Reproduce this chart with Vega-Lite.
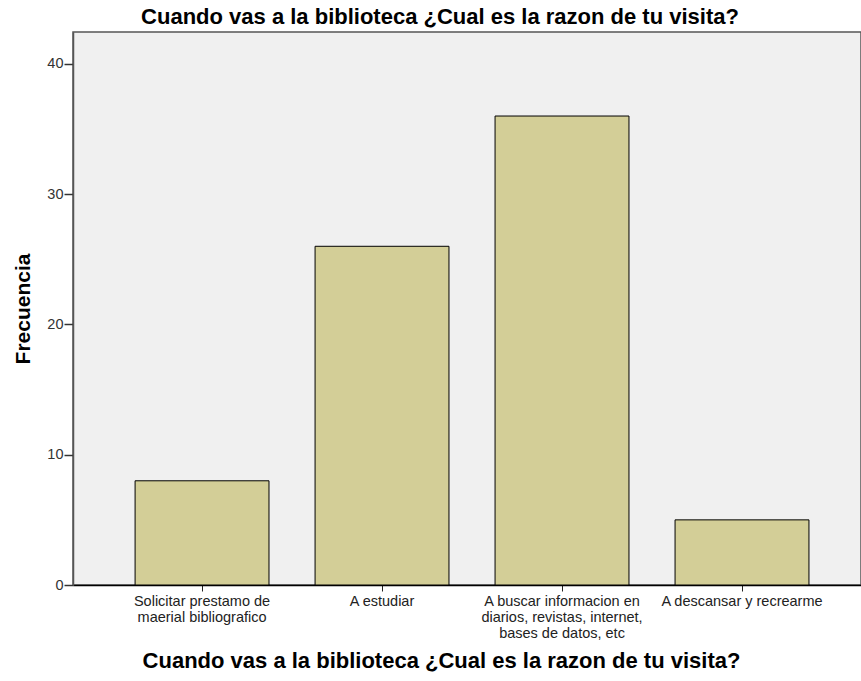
{
  "$schema": "https://vega.github.io/schema/vega-lite/v6.json",
  "autosize": {"type": "none"},
  "width": 788,
  "height": 553,
  "padding": {"left": 73, "top": 32, "right": 0, "bottom": 96},
  "background": "white",
  "title": {
    "text": "Cuando vas a la biblioteca ¿Cual es la razon de tu visita?",
    "font": "Liberation Sans",
    "fontSize": 22,
    "fontWeight": "bold",
    "color": "black",
    "anchor": "middle",
    "dx": -27,
    "offset": 3
  },
  "config": {
    "view": {"fill": "#F0F0F0", "stroke": "#555555", "strokeWidth": 1.5},
    "axis": {"grid": false, "labelFont": "Liberation Sans", "titleFont": "Liberation Sans"}
  },
  "data": {
    "values": [
      {"razon": "Solicitar prestamo de|maerial bibliografico", "frecuencia": 8},
      {"razon": "A estudiar", "frecuencia": 26},
      {"razon": "A buscar informacion en|diarios, revistas, internet,|bases de datos, etc", "frecuencia": 36},
      {"razon": "A descansar y recrearme", "frecuencia": 5}
    ]
  },
  "mark": {"type": "bar", "color": "#D3CE97", "stroke": "black", "strokeWidth": 1},
  "encoding": {
    "x": {
      "field": "razon",
      "type": "nominal",
      "sort": null,
      "scale": {"paddingInner": 0.256, "paddingOuter": 0.317, "align": 0.544},
      "axis": {
        "title": "Cuando vas a la biblioteca ¿Cual es la razon de tu visita?",
        "titleFontSize": 22,
        "titleFontWeight": "bold",
        "titleColor": "black",
        "titleX": 368,
        "titlePadding": 11,
        "labelExpr": "split(datum.label, '|')",
        "labelAngle": 0,
        "labelFontSize": 14.5,
        "labelColor": "#222222",
        "labelLineHeight": 16,
        "labelPadding": 3,
        "tickSize": 6,
        "tickColor": "#222222",
        "domainColor": "black",
        "domainWidth": 1.5
      }
    },
    "y": {
      "field": "frecuencia",
      "type": "quantitative",
      "scale": {"domain": [0, 42.45], "nice": false},
      "axis": {
        "title": "Frecuencia",
        "titleFontSize": 21,
        "titleFontWeight": "bold",
        "titleColor": "black",
        "titlePadding": 13,
        "values": [0, 10, 20, 30, 40],
        "labelFontSize": 14.5,
        "labelColor": "#333333",
        "labelPadding": 1,
        "tickSize": 9,
        "tickColor": "#333333",
        "tickWidth": 1.5,
        "domainColor": "#555555",
        "domainWidth": 1.5
      }
    }
  }
}
